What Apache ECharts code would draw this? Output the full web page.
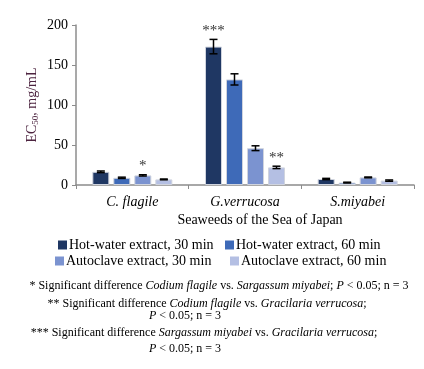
<!DOCTYPE html>
<html><head><meta charset="utf-8">
<script src="https://cdn.jsdelivr.net/npm/echarts@6/dist/echarts.min.js"></script>
<style>html,body{margin:0;padding:0;background:#fff}#c{width:424px;height:369px}</style>
</head><body><div id="c"></div>
<script>
var categories = ['C. flagile', 'G.verrucosa', 'S.miyabei'];
var seriesNames = ['Hot-water extract, 30 min', 'Hot-water extract, 60 min', 'Autoclave extract, 30 min', 'Autoclave extract, 60 min'];
var hot30 = [16.5, 173, 7.5];
var hot60 = [9, 132, 3];
var auto30 = [12, 46, 9.5];
var auto60 = [7, 22, 5.5];
var hot30Err = [1, 9, 0.8];
var hot60Err = [0.8, 7, 0.5];
var auto30Err = [0.8, 3, 0.5];
var auto60Err = [0.5, 1.5, 0.8];
var stars = [['', '***', ''], ['', '', ''], ['*', '', ''], ['', '**', '']];
var yTicks = [0, 50, 100, 150, 200];

var colors = ['#1f3763', '#3e6ab8', '#7b93d0', '#b4bfe3'];
var values = [hot30, hot60, auto30, auto60];
var errs = [hot30Err, hot60Err, auto30Err, auto60Err];
var BW = 17, GAP = 4;
var serif = 'Liberation Serif';

var series = [];
values.forEach(function (vals, si) {
  series.push({
    name: seriesNames[si], type: 'bar', barWidth: BW, barGap: (GAP / BW * 100) + '%', barCategoryGap: '30%',
    itemStyle: { color: colors[si], borderColor: '#d0d4de', borderWidth: 1 },
    data: vals.map(function (v, ci) {
      var s = stars[si][ci];
      return s ? { value: v, label: { show: true, position: 'top', distance: errs[si][ci] * 0.8 + 1, formatter: s, fontFamily: serif, fontSize: 15, color: '#333' } } : v;
    })
  });
});
values.forEach(function (vals, si) {
  series.push({
    type: 'custom', silent: true, z: 10,
    data: vals.map(function (v, ci) { return [ci, v - errs[si][ci], v + errs[si][ci]]; }),
    renderItem: function (params, api) {
      var off = (si - 1.5) * (BW + GAP);
      var lo = api.coord([api.value(0), api.value(1)]);
      var hi = api.coord([api.value(0), api.value(2)]);
      var x = lo[0] + off, hw = 4;
      var st = { stroke: '#000', lineWidth: 1.5 };
      return { type: 'group', children: [
        { type: 'line', shape: { x1: x, y1: lo[1], x2: x, y2: hi[1] }, style: st },
        { type: 'line', shape: { x1: x - hw, y1: lo[1], x2: x + hw, y2: lo[1] }, style: st },
        { type: 'line', shape: { x1: x - hw, y1: hi[1], x2: x + hw, y2: hi[1] }, style: st }
      ]};
    }
  });
});

var legendPos = [[58, 238], [225, 238], [55, 254], [230, 254]];
var legends = seriesNames.map(function (n, i) {
  return { data: [n], left: legendPos[i][0], top: legendPos[i][1], itemWidth: 9, itemHeight: 9, itemGap: 0,
    icon: 'rect', padding: 0, selectedMode: false, itemStyle: { borderWidth: 0 },
    textStyle: { fontFamily: serif, fontSize: 14, color: '#000', padding: [0, 0, 0, -3] } };
});

var notes = [
  { x: 219, y: 286, t: '* Significant difference {i|Codium flagile} vs. {i|Sargassum miyabei}; {i|P} < 0.05; n = 3' },
  { x: 207, y: 304, t: '** Significant difference {i|Codium flagile} vs. {i|Gracilaria verrucosa};' },
  { x: 185, y: 316, t: '{i|P} < 0.05; n = 3' },
  { x: 204, y: 333, t: '*** Significant difference {i|Sargassum miyabei} vs. {i|Gracilaria verrucosa};' },
  { x: 185, y: 349, t: '{i|P} < 0.05; n = 3' }
];
var graphics = notes.map(function (n) {
  return { type: 'text', x: n.x, y: n.y, style: { text: n.t, align: 'center', verticalAlign: 'middle',
    font: '12px "Liberation Serif"', fill: '#000',
    rich: { i: { fontStyle: 'italic', fontFamily: serif, fontSize: 12 } } } };
});
graphics.push({ type: 'text', x: 260, y: 220, style: { text: 'Seaweeds of the Sea of Japan', align: 'center', verticalAlign: 'middle', font: '14px "Liberation Serif"', fill: '#000' } });

var chart = echarts.init(document.getElementById('c'));
chart.setOption({
  animation: false,
  grid: { left: 76, right: 10, top: 25, bottom: 184 },
  legend: legends,
  graphic: graphics,
  xAxis: {
    type: 'category', data: categories,
    axisLine: { lineStyle: { color: '#8c8c8c', width: 1.5 } },
    axisTick: { show: true, length: 4, lineStyle: { color: '#8c8c8c' } },
    axisLabel: { fontFamily: serif, fontStyle: 'italic', fontSize: 14, color: '#000', margin: 10 }
  },
  yAxis: {
    type: 'value', min: yTicks[0], max: yTicks[yTicks.length - 1], interval: 50,
    axisLine: { show: true, lineStyle: { color: '#8c8c8c', width: 1.5 } },
    axisTick: { show: true, length: 4, lineStyle: { color: '#8c8c8c' } },
    splitLine: { show: false },
    axisLabel: { fontFamily: serif, fontSize: 14, color: '#000', margin: 8 },
    name: '{a|EC}{s|50}{a|, mg/mL}', nameLocation: 'middle', nameGap: 36, nameRotate: 90, nameMoveOverlap: false,
    nameTextStyle: { rich: {
      a: { fontFamily: serif, fontSize: 14, color: '#4d2440' },
      s: { fontFamily: serif, fontSize: 9, color: '#4d2440', verticalAlign: 'bottom', padding: [6, 0, 0, 0] }
    } }
  },
  series: series
});
</script></body></html>
